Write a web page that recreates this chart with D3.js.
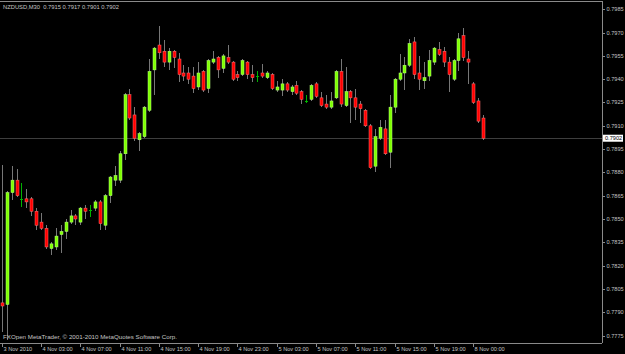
<!doctype html>
<html lang="en">
  <head>
    <meta charset="UTF-8" />
    <title>NZDUSD,M30</title>
    <script src="https://d3js.org/d3.v7.min.js"></script>
    <style>
      html,
      body {
        margin: 0;
        padding: 0;
        background: #000;
      }
      svg {
        display: block;
      }
      text {
        font-family: 'Liberation Sans', Arial, sans-serif;
        fill: #c4c4c4;
      }
      .frame {
        stroke: #8a8a8a;
        stroke-width: 1;
        shape-rendering: crispEdges;
      }
      .wick {
        stroke: #777;
        stroke-width: 1;
        shape-rendering: crispEdges;
      }
      .price-tick text {
        font-size: 5.6px;
      }
      .time-tick text {
        font-size: 5.6px;
      }
    </style>
  </head>
  <body>
    <svg id="chart"></svg>
    <script>
      // NZDUSD M30 bars, 3 Nov 23:00 .. 8 Nov 01:00
      const opens = [
        0.7796, 0.7795, 0.7867, 0.7875, 0.7863, 0.7863, 0.7863, 0.7855, 0.7848, 0.7844,
        0.7831, 0.7832, 0.784, 0.7842, 0.7848, 0.7852, 0.7848, 0.7857, 0.7856, 0.7857,
        0.7861, 0.7846, 0.7865, 0.7875, 0.7875, 0.7892, 0.793, 0.7917, 0.7901, 0.7903,
        0.792, 0.7946, 0.7962, 0.7958, 0.7951, 0.7958, 0.7953, 0.7944, 0.7944, 0.7942,
        0.7935, 0.7945, 0.7934, 0.7951, 0.7954, 0.7947, 0.7954, 0.7951, 0.7943, 0.7943,
        0.7951, 0.7943, 0.7942, 0.7944, 0.7941, 0.7943, 0.7933, 0.7933, 0.7937, 0.7932,
        0.7936, 0.7932, 0.7926, 0.7927, 0.7937, 0.7928, 0.7924, 0.7922, 0.7928, 0.7945,
        0.7923, 0.7932, 0.7928, 0.7924, 0.792, 0.791, 0.7884, 0.7902, 0.7908, 0.7893,
        0.7922, 0.794, 0.7944, 0.7949, 0.7964, 0.7944, 0.7939, 0.7942, 0.7951, 0.7959,
        0.7958, 0.7951, 0.794, 0.7952, 0.7968, 0.7953, 0.7937, 0.7926, 0.7915,
      ]
      const highs = [
        0.7885, 0.7868, 0.7884, 0.7882, 0.7873, 0.7869, 0.7864, 0.7857, 0.7854, 0.7846,
        0.7835, 0.7844, 0.7846, 0.785, 0.7856, 0.7853, 0.7858, 0.7859, 0.7859, 0.7862,
        0.7862, 0.7866, 0.7878, 0.7884, 0.7894, 0.7931, 0.7934, 0.7922, 0.7906, 0.7923,
        0.7953, 0.7961, 0.7974, 0.7965, 0.796, 0.7959, 0.7957, 0.7949, 0.7948, 0.7948,
        0.7951, 0.7946, 0.7953, 0.7958, 0.7955, 0.7956, 0.7962, 0.7952, 0.7945, 0.7953,
        0.7952, 0.7949, 0.7945, 0.795, 0.7945, 0.7944, 0.7939, 0.794, 0.7938, 0.7936,
        0.7939, 0.7933, 0.793, 0.7937, 0.7938, 0.7932, 0.793, 0.7932, 0.7946, 0.7953,
        0.7948, 0.7933, 0.7934, 0.7926, 0.7921, 0.7911, 0.7908, 0.7914, 0.7914, 0.793,
        0.7941, 0.7956, 0.7954, 0.7966, 0.7967, 0.7955, 0.7951, 0.7959, 0.7961, 0.7964,
        0.7961, 0.7954, 0.7953, 0.797, 0.7973, 0.7958, 0.7938, 0.7928, 0.7917,
      ]
      const lows = [
        0.7777, 0.7772, 0.7862, 0.7864, 0.7858, 0.7857, 0.7852, 0.7843, 0.7843, 0.7831,
        0.7827, 0.783, 0.7828, 0.7837, 0.7847, 0.7846, 0.7846, 0.785, 0.7851, 0.7855,
        0.7843, 0.7843, 0.786, 0.7871, 0.7873, 0.7888, 0.7914, 0.79, 0.7894, 0.7902,
        0.7919, 0.793, 0.7953, 0.7948, 0.7946, 0.7947, 0.7938, 0.7939, 0.7937, 0.7931,
        0.7933, 0.7932, 0.7931, 0.795, 0.7941, 0.7944, 0.795, 0.7939, 0.7939, 0.7942,
        0.794, 0.7938, 0.7938, 0.7941, 0.794, 0.7933, 0.7932, 0.7929, 0.7932, 0.793,
        0.793, 0.7924, 0.7925, 0.7926, 0.7928, 0.7922, 0.7921, 0.7921, 0.7927, 0.7922,
        0.7922, 0.7912, 0.7914, 0.7912, 0.7909, 0.7882, 0.788, 0.7901, 0.7891, 0.7883,
        0.7918, 0.7939, 0.7933, 0.7948, 0.794, 0.7933, 0.7934, 0.7939, 0.7949, 0.7955,
        0.7948, 0.7932, 0.7939, 0.7945, 0.7952, 0.7937, 0.7924, 0.7912, 0.7901,
      ]
      const closes = [
        0.7794, 0.7867, 0.7875, 0.7865, 0.7863, 0.7861, 0.7855, 0.7846, 0.7844, 0.7832,
        0.7834, 0.7839, 0.7842, 0.7848, 0.7852, 0.785, 0.7857, 0.7855, 0.7856, 0.7861,
        0.7847, 0.7865, 0.7877, 0.7878, 0.7892, 0.793, 0.7915, 0.7902, 0.7905, 0.7922,
        0.7945, 0.796, 0.7957, 0.7951, 0.7958, 0.7954, 0.7943, 0.7942, 0.794, 0.7934,
        0.7944, 0.7933, 0.7952, 0.7953, 0.7946, 0.7955, 0.7951, 0.794, 0.7941, 0.7952,
        0.7943, 0.7941, 0.7942, 0.7942, 0.7944, 0.7934, 0.7935, 0.7937, 0.7933, 0.7935,
        0.7931, 0.7927, 0.7926, 0.7936, 0.7929, 0.7923, 0.7922, 0.7926, 0.7945, 0.7924,
        0.7932, 0.7928, 0.7922, 0.7921, 0.791, 0.7883, 0.7903, 0.7909, 0.7892, 0.7922,
        0.794, 0.7944, 0.7949, 0.7963, 0.7943, 0.794, 0.7941, 0.7952, 0.796, 0.7956,
        0.7951, 0.7943, 0.7952, 0.7966, 0.7954, 0.7951, 0.7925, 0.7913, 0.7902,
      ]

      // time axis labels sit on every 8th bar
      const timeTickBars = [0, 8, 16, 24, 32, 40, 48, 56, 64, 72, 80, 88, 96]
      const timeTickLabels = [
        '3 Nov 2010',
        '4 Nov 03:00',
        '4 Nov 07:00',
        '4 Nov 11:00',
        '4 Nov 15:00',
        '4 Nov 19:00',
        '4 Nov 23:00',
        '5 Nov 03:00',
        '5 Nov 07:00',
        '5 Nov 11:00',
        '5 Nov 15:00',
        '5 Nov 19:00',
        '8 Nov 00:00',
      ]
      const priceTicks = [
        0.7775, 0.779, 0.7805, 0.782, 0.7835, 0.785, 0.7865, 0.788, 0.7895, 0.791, 0.7925,
        0.794, 0.7955, 0.797, 0.7985,
      ]
      const lastPrice = 0.7902

      const W = 625
      const H = 354
      const plotRight = 602
      const plotTop = 1
      const plotBottom = 343

      const svg = d3.select('#chart').attr('width', W).attr('height', H)

      svg.append('rect').attr('width', W).attr('height', H).attr('fill', '#000')

      const x = d3.scaleLinear().domain([0, 98]).range([1.8, 483])
      const y = d3.scaleLinear().domain([0.7775, 0.7985]).range([335.5, 9.3])

      const bars = opens.map((o, i) => ({
        i,
        o,
        h: highs[i],
        l: lows[i],
        c: closes[i],
      }))

      const cx = (d) => Math.round(x(d.i)) + 0.5

      // current price line
      svg
        .append('line')
        .attr('x1', 0)
        .attr('x2', plotRight)
        .attr('y1', Math.round(y(lastPrice)) + 0.5)
        .attr('y2', Math.round(y(lastPrice)) + 0.5)
        .attr('stroke', '#3e3e3e')
        .attr('shape-rendering', 'crispEdges')

      // wicks
      svg
        .append('g')
        .selectAll('line')
        .data(bars)
        .enter()
        .append('line')
        .attr('class', 'wick')
        .attr('x1', cx)
        .attr('x2', cx)
        .attr('y1', (d) => y(d.h))
        .attr('y2', (d) => y(d.l))
        .style('stroke', (d) => (d.o === d.c ? '#00b400' : null))

      // bodies
      svg
        .append('g')
        .selectAll('rect')
        .data(bars.filter((d) => d.o !== d.c))
        .enter()
        .append('rect')
        .attr('x', (d) => cx(d) - 1.5)
        .attr('width', 3)
        .attr('y', (d) => y(Math.max(d.o, d.c)))
        .attr('height', (d) => Math.max(1, Math.abs(y(d.o) - y(d.c))))
        .attr('fill', (d) => (d.c > d.o ? '#7fff00' : '#ff0000'))
        .attr('stroke', (d) => (d.c > d.o ? '#b8ff80' : '#ff7070'))
        .attr('stroke-width', 0.5)

      // doji crosses
      svg
        .append('g')
        .selectAll('line')
        .data(bars.filter((d) => d.o === d.c))
        .enter()
        .append('line')
        .attr('x1', (d) => cx(d) - 1.5)
        .attr('x2', (d) => cx(d) + 1.5)
        .attr('y1', (d) => Math.round(y(d.o)) + 0.5)
        .attr('y2', (d) => Math.round(y(d.o)) + 0.5)
        .attr('stroke', '#00b400')

      // frame: top, bottom, right
      svg
        .append('line')
        .attr('class', 'frame')
        .attr('x1', 0)
        .attr('x2', plotRight)
        .attr('y1', plotTop)
        .attr('y2', plotTop)
      svg
        .append('line')
        .attr('class', 'frame')
        .attr('x1', 0)
        .attr('x2', plotRight)
        .attr('y1', plotBottom)
        .attr('y2', plotBottom)
      svg
        .append('line')
        .attr('class', 'frame')
        .attr('x1', plotRight)
        .attr('x2', plotRight)
        .attr('y1', plotTop)
        .attr('y2', plotBottom)

      // price axis on the right
      const priceAxis = svg
        .append('g')
        .attr('class', 'price-tick')
        .selectAll('g')
        .data(priceTicks)
        .enter()
        .append('g')
        .attr('transform', (d) => `translate(${plotRight},${Math.round(y(d)) + 0.5})`)
      priceAxis
        .append('line')
        .attr('class', 'frame')
        .attr('x1', 0)
        .attr('x2', 3)
      priceAxis
        .append('text')
        .attr('x', 4.5)
        .attr('dy', '0.35em')
        .text((d) => d.toFixed(4))

      // last price box
      const lastY = y(lastPrice)
      svg
        .append('rect')
        .attr('x', plotRight + 1)
        .attr('y', lastY - 3.5)
        .attr('width', 20)
        .attr('height', 7)
        .attr('fill', '#fff')
      svg
        .append('text')
        .attr('x', plotRight + 3)
        .attr('y', lastY)
        .attr('dy', '0.35em')
        .style('font-size', '5.6px')
        .style('fill', '#000')
        .text(lastPrice.toFixed(4))

      // time axis along the bottom
      const timeAxis = svg
        .append('g')
        .attr('class', 'time-tick')
        .selectAll('g')
        .data(timeTickBars)
        .enter()
        .append('g')
        .attr('transform', (d) => `translate(${Math.round(x(d)) + 0.5},${plotBottom})`)
      timeAxis.append('line').attr('class', 'frame').attr('y1', 0).attr('y2', 4)
      timeAxis
        .append('text')
        .attr('x', 1)
        .attr('y', 7.5)
        .text((d, i) => timeTickLabels[i])

      // header and copyright
      svg
        .append('text')
        .attr('x', 3)
        .attr('y', 8.5)
        .style('font-size', '5.8px')
        .text('NZDUSD,M30  0.7915 0.7917 0.7901 0.7902')
        .attr('xml:space', 'preserve')

      svg
        .append('text')
        .attr('x', 3)
        .attr('y', 338.5)
        .style('font-size', '6.2px')
        .text('FXOpen MetaTrader, © 2001-2010 MetaQuotes Software Corp.')
    </script>
  </body>
</html>
